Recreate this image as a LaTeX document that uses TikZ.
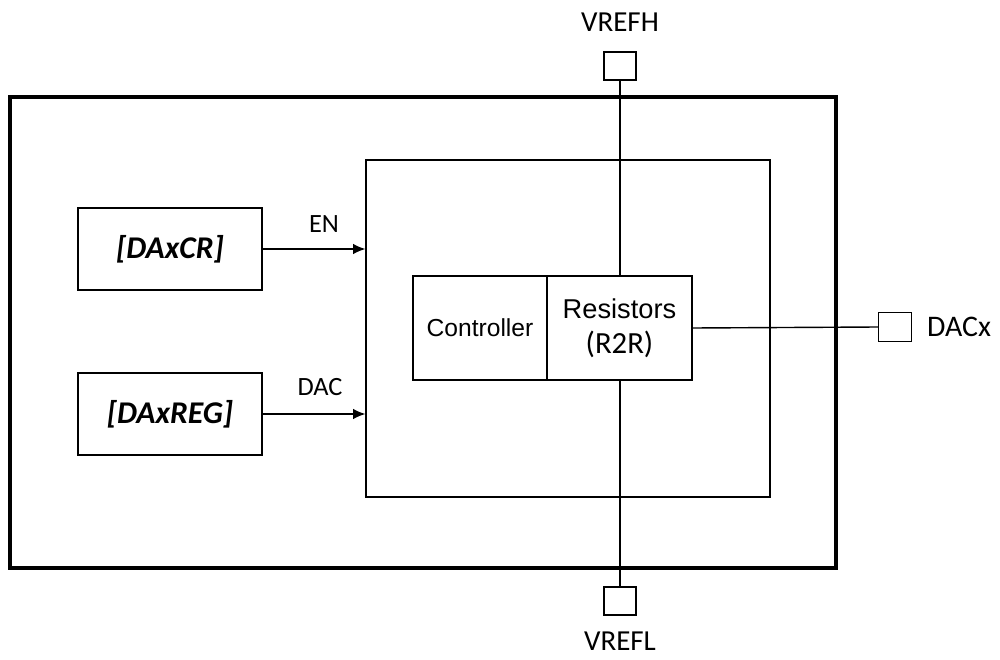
\documentclass[tikz,border=0pt]{standalone}
\usepackage{fontspec}
\setmainfont{Carlito}
\newfontfamily\arialfont{Liberation Sans}
\usepackage{tikz}
\usetikzlibrary{arrows.meta, positioning, calc}
\definecolor{mydark}{RGB}{0,0,0}
\tikzset{
  regbox/.style={rectangle, draw=mydark, line width=0.9pt,
    minimum width=3.68cm, minimum height=1.64cm,
    font=\fontsize{18}{20}\selectfont\bfseries\itshape},
  subbox/.style={rectangle, draw=mydark, line width=0.8pt,
    minimum height=2.08cm, align=center},
  pin/.style={rectangle, draw=mydark, line width=0.8pt,
    minimum width=0.64cm, minimum height=0.56cm, inner sep=0pt},
  pinlabel/.style={font=\fontsize{16.5}{19}\selectfont, inner sep=1pt},
  siglabel/.style={font=\fontsize{15}{17}\selectfont, inner sep=1pt},
  arrow/.style={-{Latex[length=7pt, width=6pt]}, line width=0.8pt, color=mydark},
  line/.style={line width=0.8pt, color=mydark}
}
\begin{document}
\begin{tikzpicture}
  \useasboundingbox (0,0) rectangle (20,13.18);

  % outer and inner frames
  \node[rectangle, draw=mydark, line width=1.8pt, minimum width=16.52cm,
    minimum height=9.42cm] (chip) at (8.46,6.53) {};
  \node[rectangle, draw=mydark, line width=0.7pt, minimum width=8.08cm,
    minimum height=6.74cm] (core) at (11.36,6.61) {};

  % registers
  \node[regbox] (cr) at (3.4,8.2) {[DAxCR]};
  \node[regbox] (reg) at (3.4,4.9) {[DAxREG]};

  % controller and resistor ladder
  \node[subbox, minimum width=2.68cm, font=\arialfont\fontsize{14}{16}\selectfont]
    (ctrl) at (9.6,6.62) {Controller};
  \node[subbox, minimum width=2.9cm, right=-0.8pt of ctrl]
    (res) {{\arialfont\fontsize{15.5}{18}\selectfont Resistors}\\[6pt]
      {\fontsize{17.5}{20}\selectfont (R2R)}};

  % pins
  \node[pin] (vh) at (12.4,11.86) {};
  \node[pin] (vl) at (12.4,1.16) {};
  \node[pin, minimum width=0.66cm, minimum height=0.58cm] (out) at (17.9,6.64) {};
  \node[pinlabel] at (12.4,12.74) {VREFH};
  \node[pinlabel] at (12.4,0.36) {VREFL};
  \node[pinlabel, font=\fontsize{17}{19}\selectfont, anchor=west] at (18.5,6.64) {DACx};

  % signals
  \draw[arrow] (cr.east) -- (cr.east -| core.west);
  \draw[arrow] (reg.east) -- (reg.east -| core.west);
  \node[siglabel] at (6.48,8.7) {EN};
  \node[siglabel] at (6.4,5.44) {DAC};

  \draw[line] (vh.south) -- (vh.south |- res.north);
  \draw[line] (vl.north) -- (vl.north |- res.south);
  \draw[line] (res.east) -- (out.west);
\end{tikzpicture}
\end{document}
